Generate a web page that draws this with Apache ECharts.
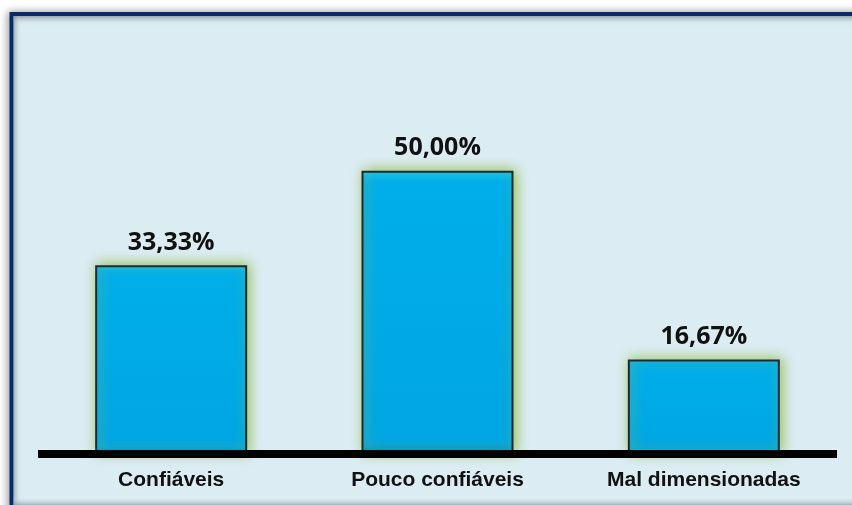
<!DOCTYPE html>
<html>
<head>
<meta charset="utf-8">
<script src="https://cdn.jsdelivr.net/npm/echarts@6/dist/echarts.min.js"></script>
<style>html,body{margin:0;padding:0;background:#fff;}#c{width:852px;height:505px;}</style>
</head>
<body>
<div id="c"></div>
<script>
var categories = ['Confiáveis', 'Pouco confiáveis', 'Mal dimensionadas'];
var values = [33.33, 50.00, 16.67];
var valueLabels = ['33,33%', '50,00%', '16,67%'];

var chart = echarts.init(document.getElementById('c'), null, {renderer: 'canvas'});
chart.setOption({
  animation: false,
  backgroundColor: '#ffffff',
  graphic: [
    {
      type: 'rect', z: -10, silent: true,
      shape: {x: 11.5, y: 14, width: 900, height: 600},
      style: {fill: '#dbecf3', stroke: '#0b2a68', lineWidth: 4,
        shadowColor: 'rgba(0,0,0,0.35)', shadowBlur: 8, shadowOffsetX: -2, shadowOffsetY: 0}
    },
    {
      type: 'rect', z: -9, silent: true,
      shape: {x: 13.5, y: 16, width: 900, height: 8},
      style: {fill: new echarts.graphic.LinearGradient(0,0,0,1,[{offset:0,color:'rgba(120,130,140,0.55)'},{offset:1,color:'rgba(219,236,243,0)'}])}
    },
    {
      type: 'rect', z: -9, silent: true,
      shape: {x: 13.5, y: 16, width: 8, height: 600},
      style: {fill: new echarts.graphic.LinearGradient(0,0,1,0,[{offset:0,color:'rgba(120,130,140,0.45)'},{offset:1,color:'rgba(219,236,243,0)'}])}
    },
    {
      type: 'rect', z: -9, silent: true,
      shape: {x: 13.5, y: 497, width: 900, height: 8},
      style: {fill: new echarts.graphic.LinearGradient(0,0,0,1,[{offset:0,color:'rgba(219,236,243,0)'},{offset:1,color:'rgba(120,130,140,0.55)'}])}
    }
  ],
  grid: {left: 38, right: 15, top: 114, height: 340, containLabel: false},
  xAxis: {
    type: 'category',
    data: categories,
    axisLine: {show: true, lineStyle: {color: '#000', width: 8, cap: 'butt'}},
    axisTick: {show: false},
    axisLabel: {
      margin: 16,
      color: '#111',
      fontFamily: 'Liberation Sans, Arial, sans-serif',
      fontWeight: 'bold',
      fontSize: 21
    },
    z: 10
  },
  yAxis: {
    type: 'value', min: 0, max: 60, interval: 10,
    show: false,
    splitLine: {show: false}
  },
  series: [{
    type: 'bar',
    data: values,
    barWidth: 152,
    z: 2,
    itemStyle: {
      color: new echarts.graphic.LinearGradient(0,0,0,1,[
        {offset:0,color:'#06c2fb'},{offset:0.04,color:'#00aeea'},{offset:0.96,color:'#00a6e2'},{offset:1,color:'#0a88bb'}
      ]),
      borderColor: '#1d2a33',
      borderWidth: 2,
      shadowColor: 'rgba(150,190,80,1)',
      shadowBlur: 12,
      shadowOffsetX: 2,
      shadowOffsetY: -1
    },
    label: {
      show: true,
      position: 'top',
      distance: 10,
      color: '#111',
      fontFamily: 'Open Sans, sans-serif',
      fontWeight: 'bold',
      fontSize: 25,
      formatter: function(p){ return valueLabels[p.dataIndex]; }
    }
  }]
});
</script>
</body>
</html>
